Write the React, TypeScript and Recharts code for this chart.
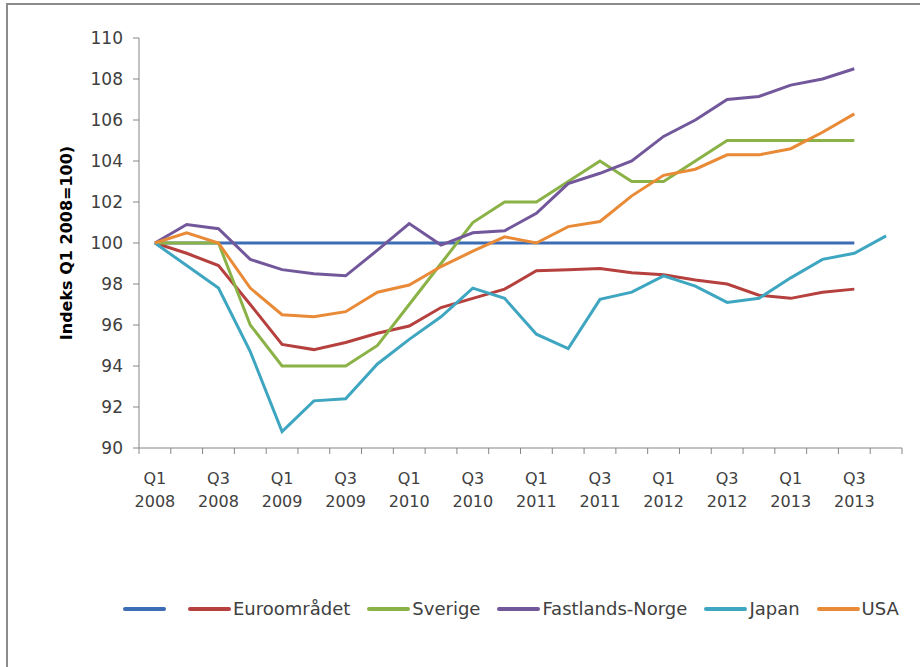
import { LineChart, Line, XAxis, YAxis, Legend } from 'recharts';

const quarters = [
  'Q1 2008', 'Q2 2008', 'Q3 2008', 'Q4 2008',
  'Q1 2009', 'Q2 2009', 'Q3 2009', 'Q4 2009',
  'Q1 2010', 'Q2 2010', 'Q3 2010', 'Q4 2010',
  'Q1 2011', 'Q2 2011', 'Q3 2011', 'Q4 2011',
  'Q1 2012', 'Q2 2012', 'Q3 2012', 'Q4 2012',
  'Q1 2013', 'Q2 2013', 'Q3 2013', 'Q4 2013',
];

const baseline = [100, 100, 100, 100, 100, 100, 100, 100, 100, 100, 100, 100, 100, 100, 100, 100, 100, 100, 100, 100, 100, 100, 100];
const euro = [100, 99.5, 98.9, 97.0, 95.05, 94.8, 95.15, 95.6, 95.95, 96.85, 97.3, 97.75, 98.65, 98.7, 98.75, 98.55, 98.45, 98.2, 98.0, 97.45, 97.3, 97.6, 97.75];
const sverige = [100, 100, 100, 96, 94, 94, 94, 95, 97, 99, 101, 102, 102, 103, 104, 103, 103, 104, 105, 105, 105, 105, 105];
const norge = [100, 100.9, 100.7, 99.2, 98.7, 98.5, 98.4, 99.65, 100.95, 99.9, 100.5, 100.6, 101.45, 102.9, 103.4, 104.0, 105.2, 106.0, 107.0, 107.15, 107.7, 108.0, 108.5];
const japan = [100, 98.9, 97.8, 94.7, 90.8, 92.3, 92.4, 94.1, 95.3, 96.4, 97.8, 97.3, 95.55, 94.85, 97.25, 97.6, 98.4, 97.9, 97.1, 97.3, 98.3, 99.2, 99.5, 100.35];
const usa = [100, 100.5, 100.0, 97.8, 96.5, 96.4, 96.65, 97.6, 97.95, 98.85, 99.6, 100.3, 100.0, 100.8, 101.05, 102.3, 103.3, 103.6, 104.3, 104.3, 104.6, 105.4, 106.3];

const yTicks = [90, 92, 94, 96, 98, 100, 102, 104, 106, 108, 110];

const series = [
  { key: 'base', name: '', color: '#3c6db4' },
  { key: 'euro', name: 'Euroområdet', color: '#b5403d' },
  { key: 'sverige', name: 'Sverige', color: '#8bb247' },
  { key: 'norge', name: 'Fastlands-Norge', color: '#72589b' },
  { key: 'japan', name: 'Japan', color: '#3ea6c0' },
  { key: 'usa', name: 'USA', color: '#e98a37' },
];

const data = quarters.map((q, i) => ({
  i,
  q,
  base: baseline[i],
  euro: euro[i],
  sverige: sverige[i],
  norge: norge[i],
  japan: japan[i],
  usa: usa[i],
}));

// tick marks sit on the quarter boundaries, labels on every other quarter centre
const xTicks: number[] = [];
for (let k = -0.5; k <= quarters.length - 0.5; k += 0.5) xTicks.push(k);

const FONT = '"DejaVu Sans", sans-serif';

function QuarterTick(props: any) {
  const { x, y, payload } = props;
  const v = payload.value as number;
  if (!Number.isInteger(v)) {
    return <line x1={x} y1={y - 8} x2={x} y2={y - 2} stroke="#868686" strokeWidth={1} />;
  }
  if (v % 2 !== 0) return null;
  const [qq, yr] = quarters[v].split(' ');
  return (
    <text x={x} y={y} textAnchor="middle" fill="#404040" fontSize={16} fontFamily={FONT}>
      <tspan x={x} dy={28}>{qq}</tspan>
      <tspan x={x} dy={23}>{yr}</tspan>
    </text>
  );
}

function LegendContent() {
  return (
    <div style={{ display: 'flex', alignItems: 'center', paddingLeft: 123, fontFamily: FONT, fontSize: 18, color: '#404040' }}>
      {series.map((s) => (
        <div key={s.key} style={{ display: 'flex', alignItems: 'center', marginRight: s.name ? 17 : 22 }}>
          <span style={{ display: 'inline-block', width: 43, height: 4, background: s.color, borderRadius: 2 }} />
          {s.name && <span style={{ marginLeft: 2 }}>{s.name}</span>}
        </div>
      ))}
    </div>
  );
}

export default function App() {
  return (
    <div style={{ position: 'fixed', left: 0, top: 0, width: 920, height: 667, background: '#fff', overflow: 'hidden' }}>
      <div style={{ position: 'absolute', left: 6, top: 3, width: 940, height: 700, border: '2px solid #8c8c8c', boxSizing: 'border-box' }} />
      <div style={{ position: 'absolute', left: 0, top: 0 }}>
        <LineChart width={920} height={667} data={data} margin={{ top: 38, right: 18, bottom: 138, left: 0 }}>
          <XAxis
            dataKey="i"
            type="number"
            domain={[-0.5, quarters.length - 0.5]}
            ticks={xTicks}
            interval={0}
            tickLine={false}
            tick={<QuarterTick />}
            axisLine={{ stroke: '#868686' }}
            height={60}
            allowDecimals
          />
          <YAxis
            domain={[90, 110]}
            ticks={yTicks}
            interval={0}
            width={139}
            axisLine={{ stroke: '#868686' }}
            tickLine={{ stroke: '#868686' }}
            tickSize={6}
            tickMargin={10}
            tick={{ fill: '#404040', fontSize: 17, fontFamily: FONT }}
            label={{ value: 'Indeks Q1 2008=100)', angle: -90, position: 'center', dx: -3, style: { fontFamily: FONT, fontSize: 16, fontWeight: 'bold', fill: '#000', textAnchor: 'middle' } }}
          />
          <Legend
            layout="vertical"
            align="center"
            verticalAlign="bottom"
            content={<LegendContent />}
            wrapperStyle={{ position: 'absolute', top: 598, left: 0, width: 920 }}
          />
          {series.map((s) => (
            <Line
              key={s.key}
              dataKey={s.key}
              name={s.name}
              stroke={s.color}
              strokeWidth={3}
              dot={false}
              isAnimationActive={false}
              connectNulls={false}
            />
          ))}
        </LineChart>
      </div>
    </div>
  );
}
